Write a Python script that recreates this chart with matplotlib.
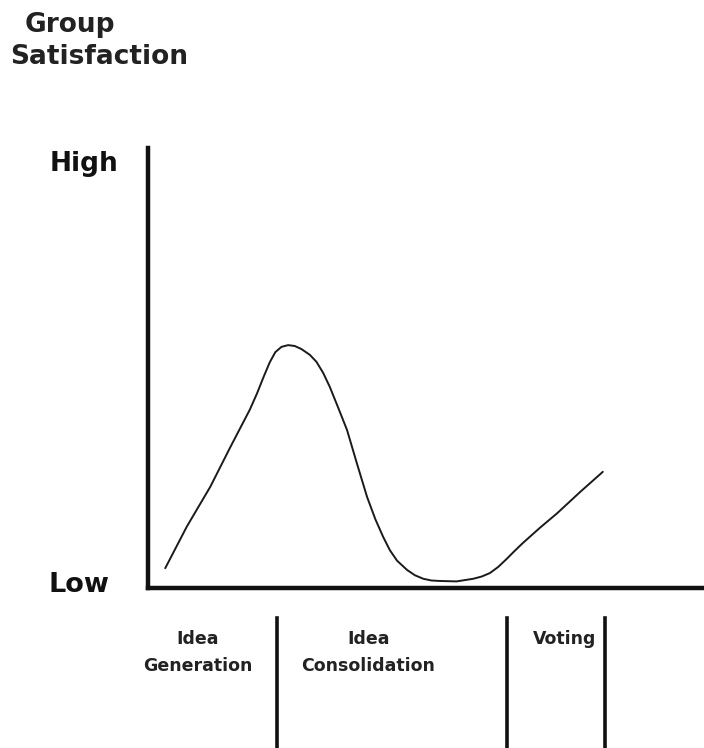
import matplotlib
matplotlib.use("Agg")
import matplotlib.pyplot as plt

# satisfaction curve (0 = low, 100 = high; x = 0..100 along the session)
time_pts = [3.1, 7.0, 11.2, 14.8, 18.3, 19.6, 20.8, 21.9, 22.9, 24.0, 25.2, 26.4, 27.6,
            29.1, 30.3, 31.5, 32.7, 34.2, 35.8, 37.6, 39.4, 40.9, 42.3, 43.5, 44.8,
            46.6, 48.0, 49.5, 51.0, 52.5, 55.5, 58.5, 60.0, 61.5, 63.0, 64.5, 66.0,
            67.4, 70.5, 73.6, 77.7, 81.8]
satisfaction = [4.5, 14.0, 23.0, 32.0, 40.5, 44.2, 48.0, 51.3, 53.6, 54.8, 55.2, 55.0, 54.3,
                53.0, 51.4, 48.9, 45.7, 41.0, 35.9, 28.2, 20.7, 15.6, 11.6, 8.6, 6.2,
                4.1, 2.9, 2.1, 1.7, 1.6, 1.5, 2.1, 2.6, 3.4, 4.8, 6.6, 8.5,
                10.2, 13.7, 17.0, 21.8, 26.4]

phase_names = ["Idea\nGeneration", "Idea\nConsolidation", "Voting"]
phase_centers = [9.0, 39.6, 75.0]
phase_dividers = [23.2, 64.6, 82.2]

W, H = 704, 748
fig = plt.figure(figsize=(W / 100, H / 100), dpi=100)
ax = fig.add_axes([148 / W, 160 / H, 556 / W, 440 / H])
ax.set_xlim(0, 100)
ax.set_ylim(0, 100)

ax.plot(time_pts, satisfaction, color="#1a1a1a", linewidth=1.4, solid_capstyle="round")

for s in ["top", "right"]:
    ax.spines[s].set_visible(False)
for s in ["left", "bottom"]:
    ax.spines[s].set_linewidth(3.2)
    ax.spines[s].set_color("#111111")
ax.set_xticks([])
ax.set_yticks([])

font = "DejaVu Sans"


def ptext(x, y, s, size, color="#1a1a1a"):
    # x, y in pixels from the top-left corner, y = baseline
    fig.text(x / W, 1 - y / H, s, fontsize=size, fontweight="bold", family=font,
             va="baseline", ha="left", color=color)


ptext(25, 32, "Group", 19, "#222222")
ptext(10, 64, "Satisfaction", 19, "#222222")
ptext(50, 171, "High", 19, "#111111")
ptext(49, 592, "Low", 19.5, "#111111")

# phase dividers and labels below the axis
for d in phase_dividers:
    ax.plot([d, d], [-6.8, -40], color="#111111", linewidth=2.6, clip_on=False)
for name, c in zip(phase_names, phase_centers):
    for i, line in enumerate(name.split("\n")):
        y = 1 - (644 + 27 * i) / H
        fig.text(ax.transData.transform((c, 0))[0] / W, y, line, fontsize=12.5, fontweight="bold",
                 family=font, ha="center", va="baseline", color="#222222")

fig.savefig("out.png", dpi=100, facecolor="white")
